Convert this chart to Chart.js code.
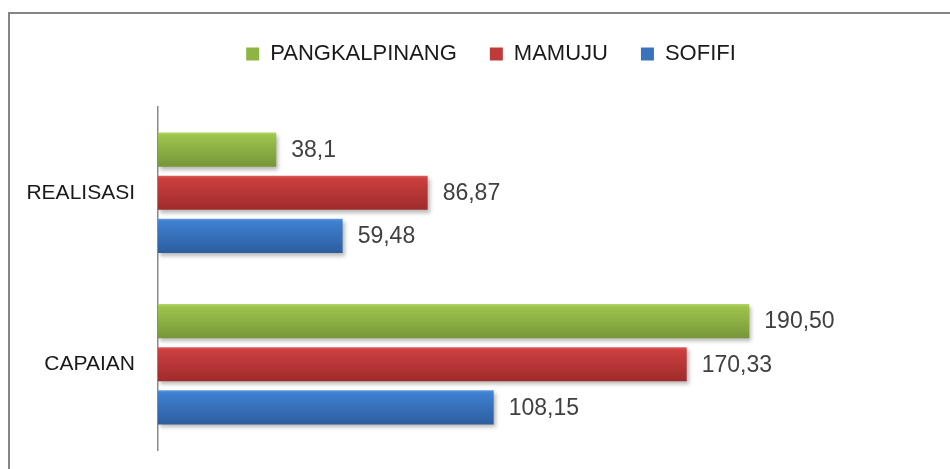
<!DOCTYPE html>
<html>
<head>
<meta charset="utf-8">
<script src="https://cdn.jsdelivr.net/npm/chart.js@4.4.1/dist/chart.umd.min.js"></script>
<style>
  body { margin: 0; background: #fff; }
  #frame { position: absolute; left: 8px; top: 12px; width: 1000px; height: 500px;
           border-left: 2px solid #858585; border-top: 2px solid #858585; }
  #wrap { position: absolute; left: 0; top: 0; width: 950px; height: 469px; }
</style>
</head>
<body>
<div id="frame"></div>
<div id="wrap"><canvas id="myChart" width="950" height="469"></canvas></div>
<script>
// data
const categories = ['REALISASI', 'CAPAIAN'];
const pangkalpinang = [38.1, 190.50];
const mamuju = [86.87, 170.33];
const sofifi = [59.48, 108.15];
// value labels as printed (comma decimals)
const pangkalpinangLabels = ['38,1', '190,50'];
const mamujuLabels = ['86,87', '170,33'];
const sofifiLabels = ['59,48', '108,15'];

const FONT = "'Liberation Sans', Arial, sans-serif";
Chart.defaults.font.family = FONT;

// gradient on each bar, shadow under it, value text at the end
const barLook = {
  id: 'barLook',
  afterLayout(chart) {
    // legend sits higher and a bit right of centre in the original
    const lg = chart.legend;
    lg.top -= 32; lg.bottom -= 32;
    lg.left += 24; lg.right += 24;
  },
  beforeDatasetsDraw(chart) {
    const c = chart.ctx;
    chart.data.datasets.forEach((ds, i) => {
      chart.getDatasetMeta(i).data.forEach(el => {
        const top = el.y - el.height / 2;
        const bottom = el.y + el.height / 2;
        const g = c.createLinearGradient(0, top, 0, bottom);
        g.addColorStop(0, ds.shade[0]);
        g.addColorStop(0.08, ds.shade[1]);
        g.addColorStop(1, ds.shade[2]);
        el.options = Object.assign({}, el.options, { backgroundColor: g });
      });
    });
  },
  beforeDatasetDraw(chart) {
    const c = chart.ctx;
    c.save();
    c.shadowColor = 'rgba(0,0,0,0.28)';
    c.shadowBlur = 4;
    c.shadowOffsetX = 2;
    c.shadowOffsetY = 3;
  },
  afterDatasetDraw(chart) {
    chart.ctx.restore();
  },
  afterDatasetsDraw(chart) {
    const c = chart.ctx;
    c.save();
    c.font = '23px ' + FONT;
    c.fillStyle = '#404040';
    c.textAlign = 'left';
    c.textBaseline = 'middle';
    chart.data.datasets.forEach((ds, i) => {
      chart.getDatasetMeta(i).data.forEach((el, j) => {
        c.fillText(ds.valueLabels[j], el.x + 15, el.y + 1);
      });
    });
    c.restore();
  }
};

const ctx = document.getElementById('myChart');
const chart = new Chart(ctx, {
  type: 'bar',
  data: {
    labels: categories,
    datasets: [{
      label: 'PANGKALPINANG',
      data: pangkalpinang,
      valueLabels: pangkalpinangLabels,
      backgroundColor: '#8db543',
      shade: ['#b3d66a', '#9dc44c', '#779639']
    }, {
      label: 'MAMUJU',
      data: mamuju,
      valueLabels: mamujuLabels,
      backgroundColor: '#c03a3a',
      shade: ['#dc6060', '#cc3f3f', '#a02b2b']
    }, {
      label: 'SOFIFI',
      data: sofifi,
      valueLabels: sofifiLabels,
      backgroundColor: '#3a72bd',
      shade: ['#5c97e0', '#3f80d1', '#2d5d9e']
    }]
  },
  options: {
    indexAxis: 'y',
    responsive: false,
    animation: false,
    layout: { padding: { left: 0, right: 16, top: 42, bottom: 19 } },
    datasets: { bar: { categoryPercentage: 0.754, barPercentage: 0.79 } },
    scales: {
      x: { display: false, min: 0, max: 250 },
      y: {
        afterFit: s => { s.width = 158; s.paddingTop = 0; s.paddingBottom = 0; },
        grid: { display: false, drawTicks: false },
        border: { display: true, color: '#8a8a8a', width: 1.5 },
        ticks: { color: '#1a1a1a', padding: 23, font: { size: 21 } }
      }
    },
    plugins: {
      legend: {
        position: 'top',
        labels: {
          boxWidth: 13,
          boxHeight: 13,
          padding: 33,
          color: '#1a1a1a',
          font: { size: 22 }
        }
      },
      tooltip: { enabled: false }
    }
  },
  plugins: [barLook]
});
</script>
</body>
</html>
